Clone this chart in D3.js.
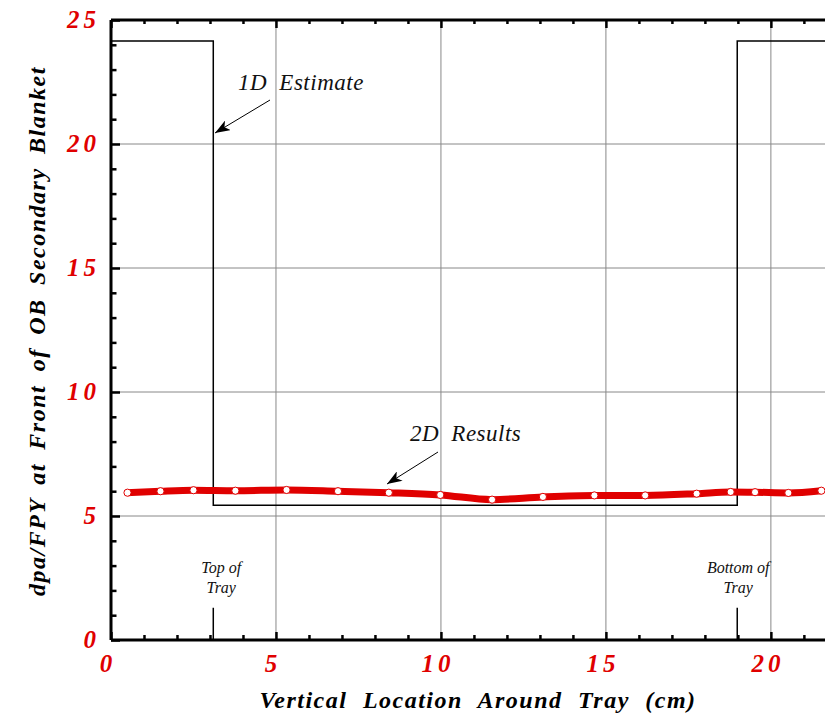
<!DOCTYPE html>
<html>
<head>
<meta charset="utf-8">
<script src="https://cdn.jsdelivr.net/npm/d3@7"></script>
<style>
  body { margin: 0; background: #fff; }
  #chart { width: 825px; height: 714px; }
</style>
</head>
<body>
<div id="chart"></div>
<script>
// 2D results (x in cm, dpa/FPY)
const resultX = [0.5, 1.5, 2.5, 3.77, 5.32, 6.88, 8.42, 9.98, 11.55, 13.09, 14.65, 16.19, 17.75, 18.78, 19.52, 20.53, 21.53];
const resultY = [5.94, 6.0, 6.04, 6.02, 6.05, 6.0, 5.94, 5.85, 5.66, 5.77, 5.83, 5.83, 5.9, 5.97, 5.96, 5.93, 6.02];

// 1D estimate step profile
const estimateX = [0, 3.1, 3.1, 18.98, 18.98, 21.65];
const estimateY = [24.15, 24.15, 5.43, 5.43, 24.15, 24.15];

// tray markers
const trayX = [3.1, 18.98];
const trayLabels = [["Top of", "Tray"], ["Bottom of", "Tray"]];

const xTicks = [0, 5, 10, 15, 20];
const yTicks = [0, 5, 10, 15, 20, 25];

const margin = { top: 20, right: 0, bottom: 74, left: 111 };
const width = 825 - margin.left - margin.right;
const height = 714 - margin.top - margin.bottom;

const svg = d3.select("#chart").append("svg")
    .attr("width", 825)
    .attr("height", 714);

const g = svg.append("g")
    .attr("transform", `translate(${margin.left},${margin.top})`);

const x = d3.scaleLinear().domain([0, 21.64]).range([0, width]);
const y = d3.scaleLinear().domain([0, 25]).range([height, 0]);

const serif = "'Liberation Serif', 'DejaVu Serif', serif";

// grid
g.selectAll(".gx").data(xTicks.filter(d => d > 0))
    .enter().append("line")
    .attr("x1", d => x(d)).attr("x2", d => x(d))
    .attr("y1", 0).attr("y2", height)
    .attr("stroke", "#888").attr("stroke-width", 1);
g.selectAll(".gy").data(yTicks.filter(d => d > 0 && d < 25))
    .enter().append("line")
    .attr("y1", d => y(d)).attr("y2", d => y(d))
    .attr("x1", 0).attr("x2", width)
    .attr("stroke", "#888").attr("stroke-width", 1);

// axes with inward ticks
const minorX = d3.range(0, 22, 1);
const minorY = d3.range(0, 26, 1);

g.append("g").attr("transform", `translate(0,${height})`)
    .call(d3.axisTop(x).tickValues(minorX).tickSize(5).tickFormat(""))
    .call(a => a.select(".domain").remove())
    .selectAll("line").attr("stroke-width", 2.5)
    .attr("y2", d => d % 5 === 0 ? -8 : -5);
g.append("g")
    .call(d3.axisBottom(x).tickValues(minorX).tickSize(5).tickFormat(""))
    .call(a => a.select(".domain").remove())
    .selectAll("line").attr("stroke-width", 2.5)
    .attr("y2", d => d % 5 === 0 ? 8 : 4);
g.append("g")
    .call(d3.axisRight(y).tickValues(minorY).tickSize(5).tickFormat(""))
    .call(a => a.select(".domain").remove())
    .selectAll("line").attr("stroke-width", 2.5)
    .attr("x2", d => d % 5 === 0 ? 9 : 5.5);

// frame lines
g.append("line").attr("x1", 0).attr("x2", width).attr("y1", height).attr("y2", height)
    .attr("stroke", "#000").attr("stroke-width", 3);
g.append("line").attr("x1", 0).attr("x2", width).attr("y1", 0).attr("y2", 0)
    .attr("stroke", "#000").attr("stroke-width", 3);
g.append("line").attr("x1", 0).attr("x2", 0).attr("y1", 0).attr("y2", height)
    .attr("stroke", "#000").attr("stroke-width", 3);

// tick labels
g.selectAll(".xl").data(xTicks).enter().append("text")
    .attr("x", d => x(d) - 3)
    .attr("y", height + 32)
    .attr("text-anchor", "middle")
    .attr("fill", "#e00000")
    .style("font-family", serif).style("font-style", "italic").style("font-weight", "bold")
    .style("font-size", "25px").style("letter-spacing", "4px")
    .text(d => d);
g.selectAll(".yl").data(yTicks).enter().append("text")
    .attr("x", -11)
    .attr("y", d => y(d) + 8)
    .attr("text-anchor", "end")
    .attr("fill", "#e00000")
    .style("font-family", serif).style("font-style", "italic").style("font-weight", "bold")
    .style("font-size", "25px").style("letter-spacing", "4px")
    .text(d => d);

// axis titles
svg.append("text")
    .attr("x", margin.left + 367).attr("y", 708)
    .attr("text-anchor", "middle")
    .style("font-family", serif).style("font-style", "italic").style("font-weight", "bold")
    .style("font-size", "24px").style("letter-spacing", "1.5px").style("word-spacing", "8px")
    .text("Vertical Location Around Tray (cm)");
svg.append("text")
    .attr("transform", "translate(45,331) rotate(-90)")
    .attr("text-anchor", "middle")
    .style("font-family", serif).style("font-style", "italic").style("font-weight", "bold")
    .style("font-size", "24px").style("letter-spacing", "1.5px").style("word-spacing", "6px")
    .text("dpa/FPY at Front of OB Secondary Blanket");

// 1D estimate step line
g.append("path")
    .datum(estimateX.map((d, i) => [d, estimateY[i]]))
    .attr("fill", "none").attr("stroke", "#000").attr("stroke-width", 1.5)
    .attr("d", d3.line().x(d => x(d[0])).y(d => y(d[1])));

// tray markers
const trayOffset = [8, 1];
g.selectAll(".tray").data(trayX).enter().append("line")
    .attr("x1", d => x(d)).attr("x2", d => x(d))
    .attr("y1", y(1.3)).attr("y2", height)
    .attr("stroke", "#000").attr("stroke-width", 1.5);
trayX.forEach((t, i) => {
    const txt = g.append("text")
        .attr("text-anchor", "middle")
        .style("font-family", serif).style("font-style", "italic")
        .style("font-size", "16px").attr("fill", "#111");
    trayLabels[i].forEach((s, j) => {
        txt.append("tspan").attr("x", x(t) + trayOffset[i]).attr("y", y(2.7) + j * 20).text(s);
    });
});

// 2D results
const pts = resultX.map((d, i) => [d, resultY[i]]);
g.append("path")
    .datum(pts)
    .attr("fill", "none").attr("stroke", "#e00000").attr("stroke-width", 7)
    .attr("stroke-linejoin", "round")
    .attr("d", d3.line().x(d => x(d[0])).y(d => y(d[1])).curve(d3.curveMonotoneX));
g.selectAll(".pt").data(pts).enter().append("circle")
    .attr("cx", d => x(d[0])).attr("cy", d => y(d[1]))
    .attr("r", 3.6)
    .attr("fill", "#fff").attr("stroke", "#e00000").attr("stroke-width", 1);

// annotations with arrows
svg.append("defs").append("marker")
    .attr("id", "arrow").attr("viewBox", "0 0 15 11")
    .attr("refX", 15).attr("refY", 5.5)
    .attr("markerWidth", 15).attr("markerHeight", 11)
    .attr("markerUnits", "userSpaceOnUse")
    .attr("orient", "auto")
    .append("path").attr("d", "M0,0 L15,5.5 L0,11 L4,5.5 Z").attr("fill", "#000");

const notes = [
    { text: "1D Estimate", tx: 238, ty: 90, x1: 270, y1: 100, x2: 215, y2: 133 },
    { text: "2D Results", tx: 410, ty: 441, x1: 438, y1: 452, x2: 387, y2: 484 }
];
notes.forEach(n => {
    svg.append("text")
        .attr("x", n.tx).attr("y", n.ty)
        .style("font-family", serif).style("font-style", "italic")
        .style("font-size", "23px").style("letter-spacing", "0.5px").style("word-spacing", "6px")
        .attr("fill", "#111")
        .text(n.text);
    svg.append("line")
        .attr("x1", n.x1).attr("y1", n.y1).attr("x2", n.x2).attr("y2", n.y2)
        .attr("stroke", "#000").attr("stroke-width", 1)
        .attr("marker-end", "url(#arrow)");
});
</script>
</body>
</html>
